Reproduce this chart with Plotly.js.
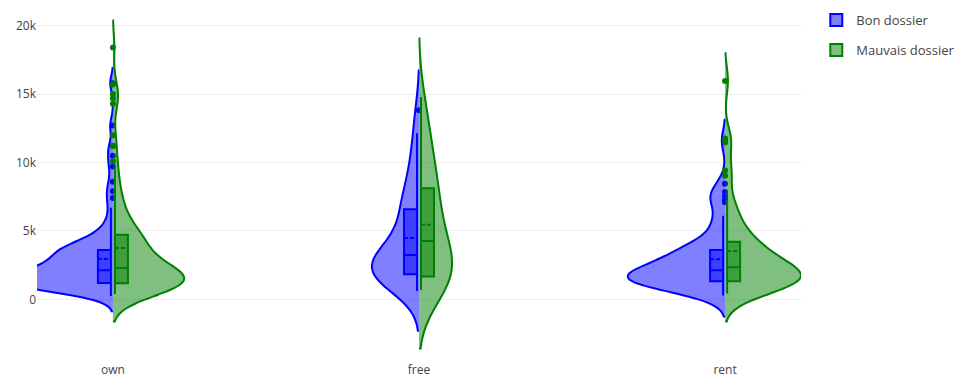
<!DOCTYPE html>
<html>
<head>
<meta charset="utf-8">
<script src="https://cdn.plot.ly/plotly-3.0.1.min.js"></script>
<style>
  html, body { margin: 0; padding: 0; background: #fff; }
  #chart { width: 959px; height: 378px; }
</style>
</head>
<body>
<div id="chart"></div>
<script>
// Credit amount by housing type, split by file quality
const housing = ['own', 'free', 'rent'];
const seriesNames = ['Bon dossier', 'Mauvais dossier'];

// Bon dossier (good files)
const goodOwn = [
  250, 340, 430, 520, 600, 660, 720, 780, 830, 880, 920, 960, 990, 1020, 1050, 1070, 1090, 1110, 1130, 1150, 1160, 1170, 1175, 1180, 1185,
  1190, 1230, 1270, 1310, 1350, 1390, 1430, 1470, 1510, 1550, 1590, 1630, 1670, 1710, 1750, 1790, 1830, 1870, 1910, 1950, 1990, 2030, 2060, 2090, 2120,
  2140, 2190, 2240, 2290, 2340, 2400, 2460, 2520, 2580, 2640, 2700, 2760, 2820, 2880, 2940, 3000, 3070, 3140, 3210, 3280, 3340, 3400, 3460, 3520, 3590,
  3610, 3660, 3720, 3780, 3850, 3920, 4000, 4100, 4200, 4320, 4450, 4600, 4800, 5050, 5400, 5900, 6690,
  7400, 7900, 8600, 9700, 10500, 11200, 12700, 15800
];
const goodFree = [
  600, 1000, 1200, 1350, 1480, 1580, 1660, 1730, 1790, 1820,
  1850, 2000, 2150, 2300, 2450, 2600, 2750, 2900, 3050, 3220,
  3250, 3450, 3700, 3950, 4250, 4600, 5000, 5450, 5950, 6500,
  6660, 7000, 7400, 7900, 8500, 9200, 10000, 11000, 12130, 13820
];
const goodRent = [
  280, 450, 600, 730, 840, 930, 1010, 1080, 1140, 1190, 1230, 1260, 1285, 1300, 1310,
  1330, 1390, 1450, 1510, 1570, 1630, 1690, 1750, 1810, 1870, 1930, 1980, 2030, 2080, 2120,
  2140, 2230, 2320, 2420, 2520, 2620, 2730, 2840, 2950, 3060, 3180, 3300, 3420, 3510, 3590,
  3630, 3750, 3900, 4100, 4400, 4800, 5300, 5700, 6100,
  7100, 7300, 7550, 7850, 8450, 11600
];

// Mauvais dossier (bad files)
const badOwn = [
  380, 450, 520, 590, 650, 700, 750, 800, 840, 880, 920, 955, 990, 1020, 1050, 1075, 1095, 1110, 1125, 1140, 1150, 1160, 1168, 1175, 1180,
  1185, 1230, 1275, 1320, 1365, 1410, 1455, 1500, 1545, 1590, 1635, 1680, 1725, 1770, 1815, 1860, 1905, 1950, 1995, 2040, 2085, 2130, 2175, 2220, 2270,
  2290, 2390, 2490, 2590, 2690, 2790, 2890, 2990, 3090, 3190, 3290, 3390, 3490, 3590, 3690, 3790, 3890, 3990, 4090, 4190, 4290, 4390, 4490, 4590, 4690,
  4730, 4850, 5000, 5150, 5300, 5500, 5700, 5950, 6200, 6500, 6800, 7100, 7450, 7850, 8300, 8900, 9600,
  10100, 11200, 12000, 14300, 14700, 15000, 15700, 18400
];
const badFree = [
  700, 950, 1150, 1300, 1420, 1520, 1600, 1670,
  1770, 2250, 2700, 3150, 3550, 3900, 4150,
  4370, 5000, 5600, 6200, 6800, 7400, 8000,
  8120, 8800, 9600, 10400, 11200, 12100, 13200, 14780
];
const badRent = [
  420, 620, 800, 930, 1030, 1110, 1170, 1220, 1260, 1285, 1300, 1310, 1315,
  1340, 1430, 1520, 1610, 1700, 1790, 1880, 1970, 2060, 2150, 2240, 2330,
  2370, 2500, 2650, 2800, 2950, 3100, 3250, 3400, 3600, 3800, 3980, 4160,
  4210, 4500, 4850, 5250, 5700, 6200, 6700, 7250,
  9040, 9410, 11470, 11760, 15960
];

// Drawing settings per half: kernel bandwidth and violin half-width (x units)
const groups = [
  { name: seriesNames[0], color: 'blue',  side: 'negative',
    samples: [goodOwn, goodFree, goodRent],
    bandwidth: [560, 1450, 765], halfWidth: [0.343, 0.154, 0.317] },
  { name: seriesNames[1], color: 'green', side: 'positive',
    samples: [badOwn, badFree, badRent],
    bandwidth: [1000, 2150, 1020], halfWidth: [0.232, 0.108, 0.248] }
];
const boxHalf = 0.0425; // box width on one side, in x units

const traces = [];
housing.forEach((cat, ci) => {
  groups.forEach(g => {
    const ys = g.samples[ci];
    traces.push({
      type: 'violin',
      name: g.name,
      legendgroup: g.name,
      showlegend: ci === 0,
      x: ys.map(() => cat),
      y: ys,
      side: g.side,
      width: 2 * g.halfWidth[ci],
      bandwidth: g.bandwidth[ci],
      line: { color: g.color, width: 2 },
      points: 'outliers',
      pointpos: 0,
      jitter: 0,
      marker: { size: 6, color: g.color },
      box: { visible: true, width: 2 * boxHalf / g.halfWidth[ci] },
      meanline: { visible: true },
      hoverinfo: 'y'
    });
  });
});

const layout = {
  width: 959,
  height: 378,
  margin: { l: 37, r: 158, t: 10, b: 17, autoexpand: false },
  paper_bgcolor: '#fff',
  plot_bgcolor: '#fff',
  violinmode: 'overlay',
  violingap: 0,
  font: { family: '"Open Sans", verdana, arial, sans-serif', size: 12, color: '#444' },
  xaxis: {
    type: 'category',
    categoryorder: 'array',
    categoryarray: housing,
    range: [-0.248, 2.248],
    showgrid: false,
    zeroline: false
  },
  yaxis: {
    range: [-4510, 21148],
    tick0: 0,
    dtick: 5000,
    gridcolor: '#eee',
    zeroline: false
  },
  legend: { tracegroupgap: 10, y: 1.014, font: { size: 13 } }
};

Plotly.newPlot('chart', traces, layout, { displayModeBar: false });
</script>
</body>
</html>
